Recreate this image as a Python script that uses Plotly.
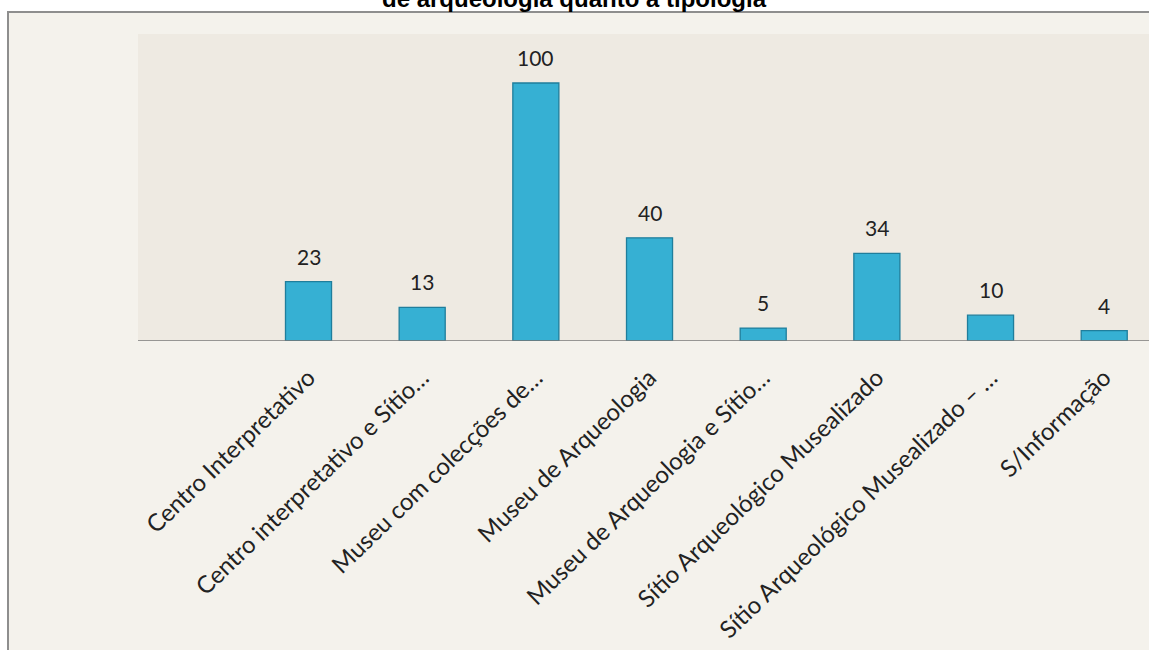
import plotly.graph_objects as go

# Categories (tick labels as shown on the axis) and counts
categorias = [
    "Centro Interpretativo",
    "Centro interpretativo e Sítio…",
    "Museu com colecções de…",
    "Museu de Arqueologia",
    "Museu de Arqueologia e Sítio…",
    "Sítio Arqueológico Musealizado",
    "Sítio Arqueológico Musealizado – …",
    "S/Informação",
]
valores = [23, 13, 100, 40, 5, 34, 10, 4]
titulo = "de arqueologia quanto à tipologia"

W, H = 1149, 650
L, T, B = 138, 34, 650 - 341
PW, PH = W - L, H - T - B

def px_x(p):
    return (p - L) / PW

def px_y(p):
    return (H - B - p) / PH

LABEL_FONT = "Lato, 'Open Sans', sans-serif"

fig = go.Figure()

fig.add_trace(go.Bar(
    x=list(range(len(categorias))),
    y=valores,
    width=0.405,
    marker=dict(color="#36B0D3", line=dict(color="#1F7E9C", width=1.3)),
    hoverinfo="x+y",
))

# value labels above each bar
for i, v in enumerate(valores):
    fig.add_annotation(
        x=i, y=v, xref="x", yref="y", text=str(v), showarrow=False,
        yanchor="bottom", yshift=11,
        font=dict(family=LABEL_FONT, size=21, color="#222222"),
    )

# chart frame: outer panel with border, inner plot panel
fig.add_shape(type="rect", xref="paper", yref="paper", layer="below",
              x0=px_x(8), x1=px_x(W + 20), y0=px_y(H + 20), y1=px_y(12),
              fillcolor="#F4F2EC", line=dict(color="#8E8E8E", width=2))
fig.add_shape(type="rect", xref="paper", yref="paper", layer="below",
              x0=0, x1=1.02, y0=0, y1=1,
              fillcolor="#EEEAE2", line=dict(width=0))

# title, partly above the top of the page
fig.add_annotation(
    x=px_x(574), y=px_y(-1), xref="paper", yref="paper", text=f"<b>{titulo}</b>",
    showarrow=False, xanchor="center", yanchor="middle",
    font=dict(family="Liberation Sans, Arial, sans-serif", size=24, color="#000000"),
)

fig.update_layout(
    width=W, height=H,
    margin=dict(l=L, r=0, t=T, b=B),
    paper_bgcolor="#FFFFFF",
    plot_bgcolor="rgba(0,0,0,0)",
    showlegend=False,
)
fig.update_xaxes(
    range=[-1.5, 7.394],
    tickmode="array",
    tickvals=list(range(len(categorias))),
    ticktext=categorias,
    tickangle=-44,
    ticklabelstandoff=17,
    tickfont=dict(family=LABEL_FONT, size=24, color="#222222"),
    showgrid=False, zeroline=False, showline=False, ticks="",
)
fig.update_yaxes(
    range=[0, PH / 2.58],
    visible=False, showgrid=False, zeroline=True,
)
# baseline along the category axis
fig.add_shape(type="line", xref="paper", yref="y", x0=0, x1=1.02, y0=0, y1=0,
              line=dict(color="#7A7A7A", width=1.3))

fig.write_html("out.html")
